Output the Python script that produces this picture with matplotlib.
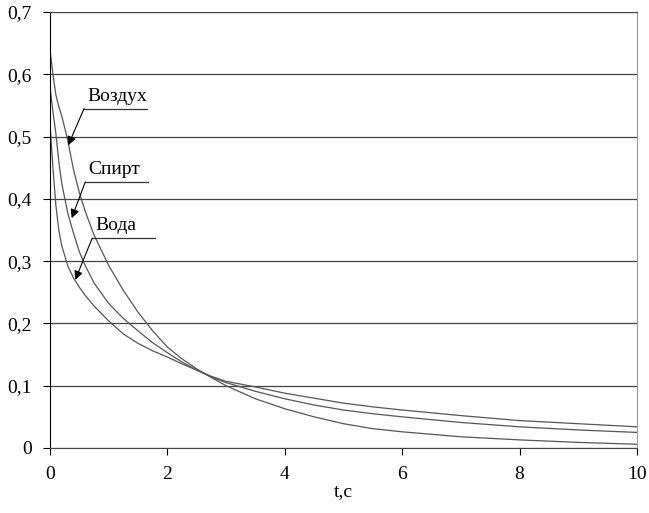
import matplotlib.pyplot as plt
from matplotlib.ticker import FuncFormatter

t = [0, 0.05, 0.1, 0.15, 0.2, 0.3, 0.4, 0.5, 0.6, 0.75, 1, 1.25, 1.5, 1.75,
     2, 2.25, 2.5, 2.75, 3, 3.5, 4, 4.5, 5, 5.5, 6, 7, 8, 9, 10]
air = [0.64, 0.60, 0.567, 0.548, 0.533, 0.495, 0.447, 0.41, 0.38, 0.342,
       0.293, 0.253, 0.218, 0.188, 0.162, 0.143, 0.127, 0.113, 0.100, 0.079,
       0.063, 0.050, 0.039, 0.031, 0.026, 0.018, 0.013, 0.009, 0.006]
spirit = [0.58, 0.54, 0.505, 0.46, 0.425, 0.378, 0.345, 0.315, 0.293, 0.265,
          0.232, 0.208, 0.188, 0.169, 0.153, 0.138, 0.125, 0.114, 0.105,
          0.091, 0.079, 0.069, 0.061, 0.055, 0.050, 0.041, 0.034, 0.029,
          0.025]
water = [0.52, 0.45, 0.39, 0.35, 0.325, 0.293, 0.273, 0.258, 0.245, 0.228,
         0.204, 0.183, 0.168, 0.156, 0.146, 0.135, 0.125, 0.115, 0.107,
         0.098, 0.088, 0.080, 0.072, 0.066, 0.061, 0.052, 0.044, 0.039,
         0.034]

# label text, text pos, underline end, arrow tip
labels = [
    ("Воздух", (0.58, 0.545), 1.65, (0.31, 0.486)),
    ("Спирт", (0.60, 0.427), 1.67, (0.37, 0.369)),
    ("Вода", (0.72, 0.337), 1.79, (0.43, 0.27)),
]

plt.rcParams['font.family'] = ['Liberation Serif', 'DejaVu Serif']
plt.rcParams['font.size'] = 14

fig = plt.figure(figsize=(6.49, 5.13), dpi=100)
ax = fig.add_axes([50 / 649, 1 - 448 / 513, 587 / 649, 436 / 513])

for y in (air, spirit, water):
    ax.plot(t, y, color='#555555', lw=0.9)

for name, (x0, y0), x1, tip in labels:
    ax.text(x0 + 0.05, y0 + 0.006, name, ha='left', va='bottom')
    ax.plot([x0, x1], [y0, y0], color='#333333', lw=0.9)
    ax.annotate('', xy=tip, xytext=(x0, y0),
                arrowprops=dict(arrowstyle='-|>', color='black', lw=0.8,
                                mutation_scale=13, shrinkA=0, shrinkB=0))

ax.set_xlim(0, 10)
ax.set_ylim(0, 0.7)
ax.set_xticks([0, 2, 4, 6, 8, 10])
ax.set_yticks([0, 0.1, 0.2, 0.3, 0.4, 0.5, 0.6, 0.7])
ax.yaxis.set_major_formatter(FuncFormatter(
    lambda v, p: '0' if v == 0 else f'{v:.1f}'.replace('.', ',')))
ax.grid(axis='y', color='#444444', lw=0.9)
ax.set_axisbelow(True)
ax.tick_params(direction='out', length=5, width=0.8, pad=8)
ax.spines['left'].set_color('black')
ax.spines['bottom'].set_color('#444444')
ax.spines['top'].set_color('#444444')
ax.spines['right'].set_color('#999999')
ax.set_xlabel('t,c', labelpad=0)

fig.savefig('out.png', dpi=100)
